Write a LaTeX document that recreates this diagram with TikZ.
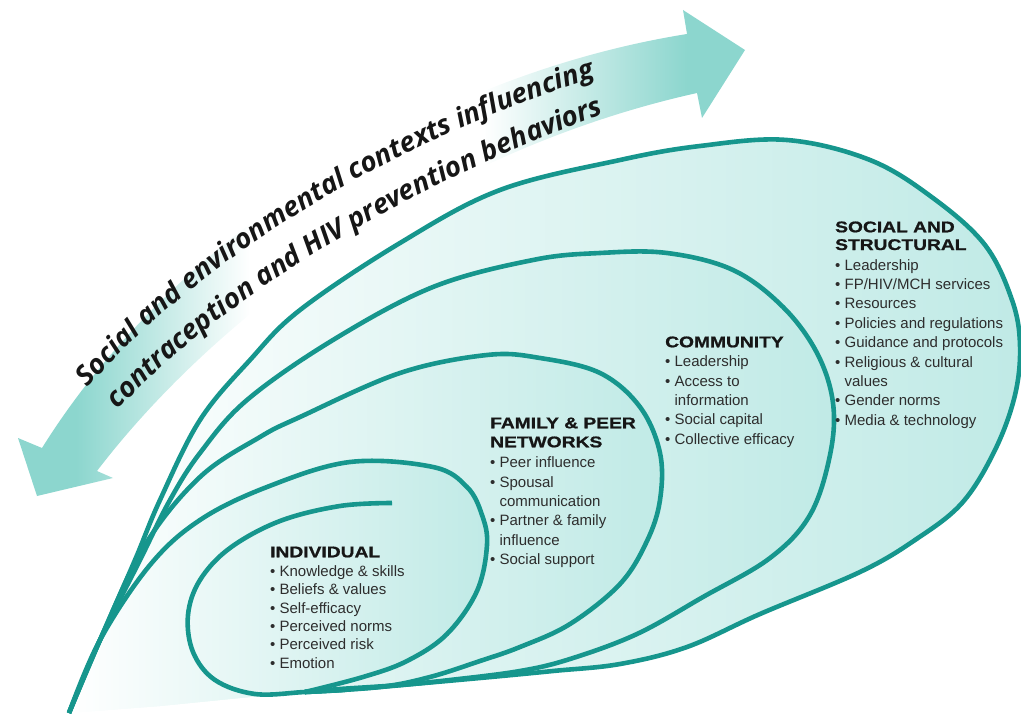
\documentclass[tikz,border=0pt]{standalone}
\usepackage{fontspec}
\setmainfont{Liberation Sans}
\newfontfamily\headfont[UprightFont={* Bold}, FakeStretch=1.24, FakeBold=1]{Liberation Sans}
\newfontfamily\arrowfont{Open Sans}
\usetikzlibrary{decorations.text}

\definecolor{tealline}{RGB}{22,150,141}
\definecolor{tealfill}{RGB}{192,234,230}
\definecolor{tealarrow}{RGB}{140,214,206}
\definecolor{inktext}{RGB}{45,45,45}
\definecolor{inkhead}{RGB}{22,22,22}

% band fades to white in its middle
\pgfdeclarehorizontalshading{bandshade}{100bp}{color(0bp)=(tealarrow); color(29bp)=(tealarrow);
  color(41bp)=(white); color(57bp)=(white); color(71bp)=(tealarrow); color(100bp)=(tealarrow)}

\newcommand\headtext{\headfont\fontsize{15.5}{19.4}\selectfont\color{inkhead}}
\newcommand\arrowtext{\arrowfont\bfseries\itshape\fontsize{27.5}{30}\selectfont}
\newcommand\dotitem{\textbullet\ }
\newcommand\noitem{\phantom{\textbullet\ }}

\begin{document}
\begin{tikzpicture}[x=1pt, y=-1pt,
  ringline/.style={draw=tealline, line width=4.6pt},
  ringfill/.style={left color=white, right color=tealfill},
  itemtext/.style={font=\fontsize{15}{19.4}\selectfont, text=inktext, align=left, inner sep=0pt, anchor=base west},
  outerring/.style={insert path={plot[smooth, tension=0.6] coordinates {(69,713) (100,640) (135,560) (160,500) (200,420) (250,360) (300,310) (400,243) (500,190) (620,160) (700,146) (787,140) (870,160) (933,198) (985,245) (1012,300) (1020,345) (1015,395) (995,450) (962,503) (915,540) (860,572) (760,614) (687,647) (620,664) (553,671) (480,678) (400,685) (340,689) (305,692)}}},
  commring/.style={insert path={plot[smooth, tension=0.6] coordinates {(69,713) (100,640) (140,560) (170,500) (200,453) (247,400) (333,340) (433,287) (533,260) (600,253) (667,253) (733,270) (783,307) (817,353) (833,403) (830,455) (810,515) (770,558) (703,597) (637,634) (570,659) (520,671) (450,680) (380,687) (305,692)}}},
  famring/.style={insert path={plot[smooth, tension=0.6] coordinates {(69,713) (100,640) (145,545) (200,477) (260,437) (300,417) (400,373) (487,355) (540,358) (600,373) (640,407) (660,453) (660,500) (647,541) (620,584) (570,624) (520,647) (480,661) (430,677) (380,687) (305,692)}}},
  indring/.style={insert path={plot[smooth, tension=0.6] coordinates {(69,713) (100,640) (150,565) (200,520) (267,487) (350,462) (433,467) (467,487) (482,515) (487,545) (477,591) (447,634) (407,661) (363,677) (305,692)}}},
]
\useasboundingbox (0,0) rectangle (1021,714);

% double arrow behind the title
\path[shading=bandshade]
  (42,448) .. controls (175,235) and (430,75) .. (687,34) -- (683,10) -- (745,50) -- (702,118) -- (697,93)
  .. controls (440,150) and (220,310) .. (97,471) -- (113,478) -- (37,496) -- (18,438) -- cycle;

\path[decorate, decoration={text along path, text color=inkhead,
  text={|\arrowtext|Social and environmental contexts influencing}}]
  (88,388) .. controls (185,275) and (365,150) .. (600,76);
\path[decorate, decoration={text along path, text color=inkhead,
  text={|\arrowtext|contraception and HIV prevention behaviors}}]
  (118,410) .. controls (215,305) and (400,185) .. (625,106);

% rings, outer first
\path[ringfill] [outerring] -- (250,697) -- (160,706) -- cycle;
\path[ringfill] [commring] -- (250,697) -- (160,706) -- cycle;
\path[ringfill] [famring] -- (250,697) -- (160,706) -- cycle;
\path[ringfill] [indring] -- (250,697) -- (160,706) -- cycle;

\draw[ringline] [outerring];
\draw[ringline] [commring];
\draw[ringline] [famring];
\draw[ringline] [indring];
% inner spiral end
\draw[ringline] plot[smooth, tension=0.6] coordinates {(345,690) (305,692) (255,694) (215,680) (193,652) (188,615) (200,580) (230,548) (280,521) (340,506) (392,503)};

% texts, placed at the baseline of their last line
\node[itemtext] (social) at (835,425.2) {{\headtext SOCIAL AND}\\[-1.7pt]{\headtext STRUCTURAL}\\[0.6pt]
  \dotitem Leadership\\ \dotitem FP/HIV/MCH services\\ \dotitem Resources\\ \dotitem Policies and regulations\\
  \dotitem Guidance and protocols\\ \dotitem Religious \& cultural\\ \noitem values\\ \dotitem Gender norms\\
  \dotitem Media \& technology};
\node[itemtext] (community) at (665,444.3) {{\headtext COMMUNITY}\\
  \dotitem Leadership\\ \dotitem Access to\\ \noitem information\\ \dotitem Social capital\\ \dotitem Collective efficacy};
\node[itemtext] (family) at (490,564.7) {{\headtext FAMILY \& PEER}\\[-0.4pt]{\headtext NETWORKS}\\[1pt]
  \dotitem Peer influence\\ \dotitem Spousal\\ \noitem communication\\ \dotitem Partner \& family\\ \noitem influence\\
  \dotitem Social support};
\node[itemtext, font=\fontsize{15}{18.4}\selectfont] (individual) at (270,668.3) {{\headtext INDIVIDUAL}\\[0.6pt]
  \dotitem Knowledge \& skills\\ \dotitem Beliefs \& values\\ \dotitem Self-efficacy\\ \dotitem Perceived norms\\
  \dotitem Perceived risk\\ \dotitem Emotion};
\end{tikzpicture}
\end{document}
